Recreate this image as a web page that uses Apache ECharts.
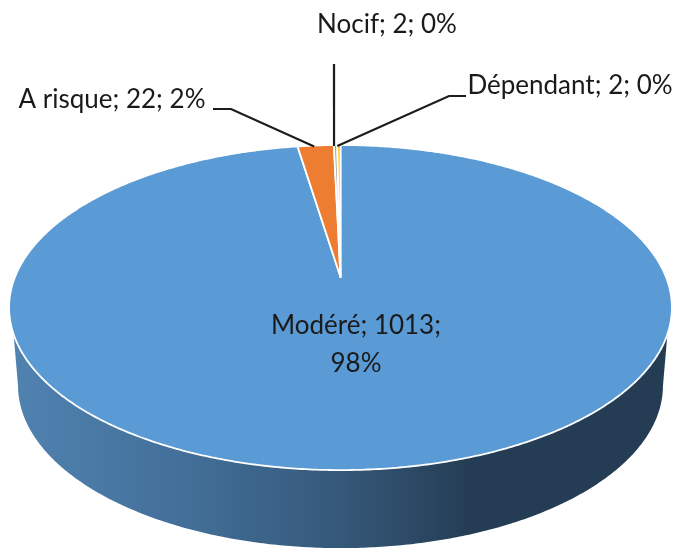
<!DOCTYPE html>
<html>
<head>
<meta charset="utf-8">
<style>html,body{margin:0;padding:0;background:#fff}#c{width:687px;height:548px;filter:blur(0.5px)}</style>
<script src="https://cdn.jsdelivr.net/npm/echarts@6/dist/echarts.min.js"></script>
</head>
<body>
<div id="c"></div>
<script>
// Data
const categories = ['Modéré', 'A risque', 'Nocif', 'Dépendant'];
const values = [1013, 22, 2, 2];
const sliceColors = ['#5B9BD5', '#ED7D31', '#A5A5A5', '#FFC000'];
// Label layout: centre of each text block, and leader elbows
const labelLines = [['Modéré; 1013;', '98%'], ['A risque; 22; 2%'], ['Nocif; 2; 0%'], ['Dépendant; 2; 0%']];
const labelPos = [[356, 345], [112, 100], [387, 25], [570, 86]];
const leaderElbows = [null, [[213, 109], [231, 109]], [[334, 64]], [[466, 96], [449, 96]]];

// Tilted-disc projection
const CX = 340.5, APEX_Y = 277, DISC_RX = 325.5, DISC_RY = 156.8, TILT = 0.188;
const DEPTH = 78, BASE_SCALE = 0.973;
const total = values.reduce((a, b) => a + b, 0);
function project(deg, radius) {
  const t = deg * Math.PI / 180, u = Math.sin(t) * radius, v = Math.cos(t) * radius;
  const w = 1 + TILT * v;
  return [CX + DISC_RX * u / w, APEX_Y - DISC_RY * v / w];
}
function arc(from, to) {
  const n = Math.max(2, Math.ceil(Math.abs(to - from) * 2)), pts = [];
  for (let i = 0; i <= n; i++) pts.push(project(from + (to - from) * i / n, 1));
  return pts;
}
const startAngles = [];
values.reduce((acc, v, i) => { startAngles[i] = acc; return acc + v; }, 0);

const wallGradient = new echarts.graphic.LinearGradient(0, 0, 1, 0, [
  { offset: 0, color: '#5082B0' },
  { offset: 0.25, color: '#43709A' },
  { offset: 0.5, color: '#355879' },
  { offset: 0.7, color: '#243D54' },
  { offset: 1, color: '#243D54' }
]);

function renderWall() {
  const top = arc(110, 250);
  const bottom = arc(259, 101).map(p => [CX + (p[0] - CX) * BASE_SCALE, p[1] + DEPTH]);
  return { type: 'polygon', shape: { points: top.concat(bottom) }, style: { fill: wallGradient } };
}

function renderSlice(params, api) {
  const i = params.dataIndex, v = api.value(0);
  const a0 = startAngles[i] / total * 360, a1 = (startAngles[i] + v) / total * 360;
  const pts = [[CX, APEX_Y]].concat(arc(a0, a1));
  const children = [{
    type: 'polygon', z2: 1, shape: { points: pts },
    style: { fill: sliceColors[i], stroke: '#fff', lineWidth: 1.8, lineJoin: 'round' }
  }];
  if (leaderElbows[i]) {
    const end = project((a0 + a1) / 2, 1);
    const line = leaderElbows[i].concat([[end[0] - 1.5, end[1] + 1]]);
    children.push({
      type: 'polyline', z2: 5, shape: { points: line },
      style: { fill: 'none', stroke: '#1c1c1c', lineWidth: 2.2 }
    });
  }
  const pos = labelPos[i];
  children.push({
    type: 'text', z2: 6,
    style: {
      x: pos[0], y: pos[1], text: labelLines[i].join('\n'),
      font: '26px Lato', lineHeight: 38, fill: '#1a1a1a', align: 'center', verticalAlign: 'middle'
    }
  });
  return { type: 'group', children };
}

const chart = echarts.init(document.getElementById('c'), null, { renderer: 'canvas' });
chart.setOption({
  animation: false,
  backgroundColor: '#fff',
  series: [
    { type: 'custom', coordinateSystem: 'none', silent: true, z: 1, data: [total], renderItem: renderWall },
    { type: 'custom', coordinateSystem: 'none', silent: true, z: 2,
      data: categories.map((name, i) => ({ name, value: values[i] })), renderItem: renderSlice }
  ]
});
</script>
</body>
</html>
